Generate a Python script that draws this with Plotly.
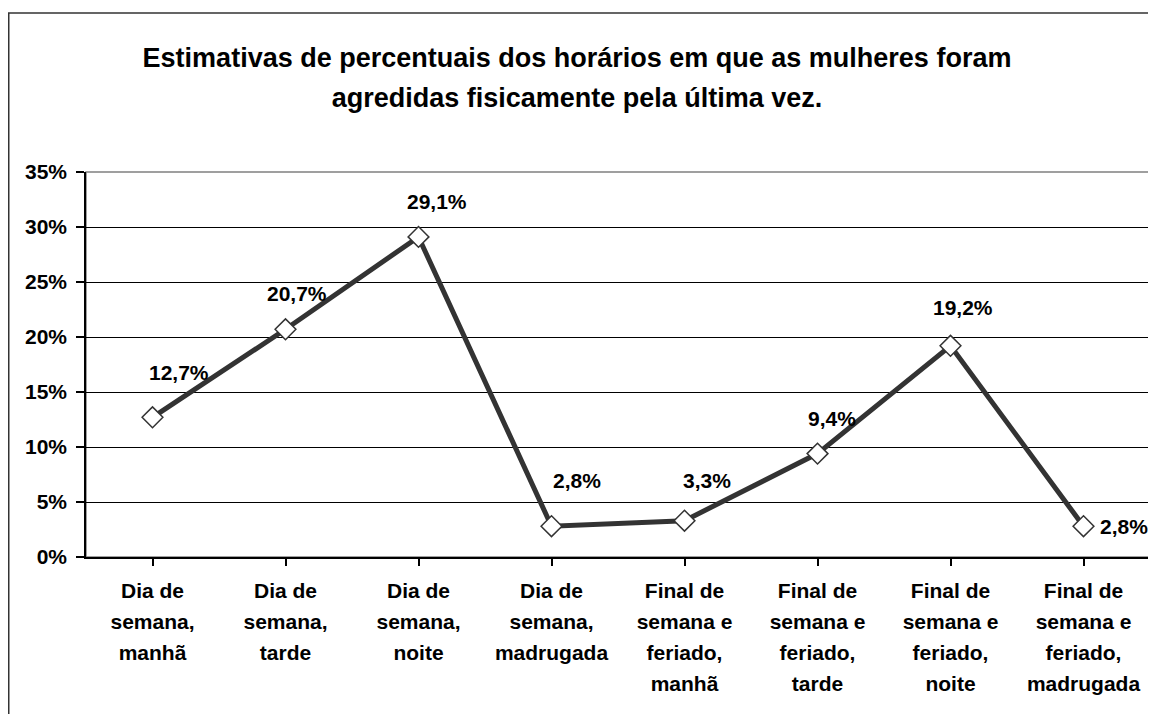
import plotly.graph_objects as go

# data
categorias = [
    "Dia de<br>semana,<br>manhã",
    "Dia de<br>semana,<br>tarde",
    "Dia de<br>semana,<br>noite",
    "Dia de<br>semana,<br>madrugada",
    "Final de<br>semana e<br>feriado,<br>manhã",
    "Final de<br>semana e<br>feriado,<br>tarde",
    "Final de<br>semana e<br>feriado,<br>noite",
    "Final de<br>semana e<br>feriado,<br>madrugada",
]
percentuais = [12.7, 20.7, 29.1, 2.8, 3.3, 9.4, 19.2, 2.8]
y_ticks = [0, 5, 10, 15, 20, 25, 30, 35]

# label offsets (pixels) relative to each point
label_dx = [26, 11, 18, 25, 22, 14, 12, 40]
label_dy = [45, 36, 35, 46, 40, 35, 38, 0]

FONT = "Liberation Sans, Arial, sans-serif"
DARK = "#333333"

# the page body adds an 8px offset, so the figure is 8px smaller than the window
W, H = 1148, 706
ML, MR, MT, MB = 78, 6, 164, 157


def fmt_pct(v):
    return f"{v:.1f}".replace(".", ",") + "%"


def big_lines(txt, inner=21):
    # wrap each line so line spacing follows the outer (larger) font size
    return "<br>".join(f"<span style='font-size:{inner}px'><b>{p}</b></span>" for p in txt.split("<br>"))


x_idx = list(range(len(categorias)))

fig = go.Figure()
fig.add_trace(go.Scatter(
    x=x_idx, y=percentuais,
    mode="lines+markers",
    line=dict(color=DARK, width=5),
    marker=dict(symbol="diamond", size=16, color="white", line=dict(color=DARK, width=1.5)),
    showlegend=False,
    hoverinfo="skip",
))

for i, v in enumerate(percentuais):
    fig.add_annotation(
        x=i, y=v, xref="x", yref="y",
        text="<b>" + fmt_pct(v) + "</b>",
        showarrow=False, xshift=label_dx[i], yshift=label_dy[i],
        font=dict(family=FONT, size=21, color="black"),
    )

# plot area frame (gray) and outer chart border
fig.add_shape(type="rect", xref="paper", yref="paper", x0=0, x1=1, y0=0, y1=1,
              line=dict(color="#808080", width=1.5), layer="below")
pw, ph = W - ML - MR, H - MT - MB
fig.add_shape(type="rect", xref="paper", yref="paper",
              x0=(0.75 - ML) / pw, x1=(W + 20 - ML) / pw,
              y0=(H - MB - (H + 20)) / ph, y1=(H - MB - 5) / ph,
              line=dict(color=DARK, width=1.5), layer="above")

fig.update_layout(
    width=W, height=H,
    margin=dict(l=ML, r=MR, t=MT, b=MB),
    paper_bgcolor="white", plot_bgcolor="white",
    font=dict(family=FONT, color="black"),
    title=dict(
        text=big_lines("Estimativas de percentuais dos horários em que as mulheres foram<br>"
                       "agredidas fisicamente pela última vez.", inner=27),
        font=dict(family=FONT, size=31, color="black"),
        x=569 / W, xref="container", xanchor="center",
        y=1 - 59 / H, yref="container", yanchor="top",
    ),
    xaxis=dict(
        tickmode="array", tickvals=x_idx,
        ticktext=[big_lines(c) for c in categorias],
        tickfont=dict(family=FONT, size=24, color="black"),
        range=[-0.5, len(categorias) - 0.5],
        showgrid=False, zeroline=False,
        showline=True, linecolor="black", linewidth=1.5,
        ticks="outside", ticklen=7, tickcolor="black", tickwidth=1.5,
        tickson="boundaries", fixedrange=True, automargin=False,
        ticklabelstandoff=3,
    ),
    yaxis=dict(
        range=[0, 35], tickmode="array", tickvals=y_ticks,
        ticktext=["<b>" + f"{t}%" + "</b>" for t in y_ticks],
        tickfont=dict(family=FONT, size=21, color="black"),
        showgrid=True, gridcolor="black", gridwidth=1,
        zeroline=False,
        showline=True, linecolor="black", linewidth=1.5,
        ticks="outside", ticklen=8, tickcolor="black", tickwidth=1.5,
        ticklabelstandoff=5,
        fixedrange=True, automargin=False,
    ),
)

fig.write_html("out.html")
